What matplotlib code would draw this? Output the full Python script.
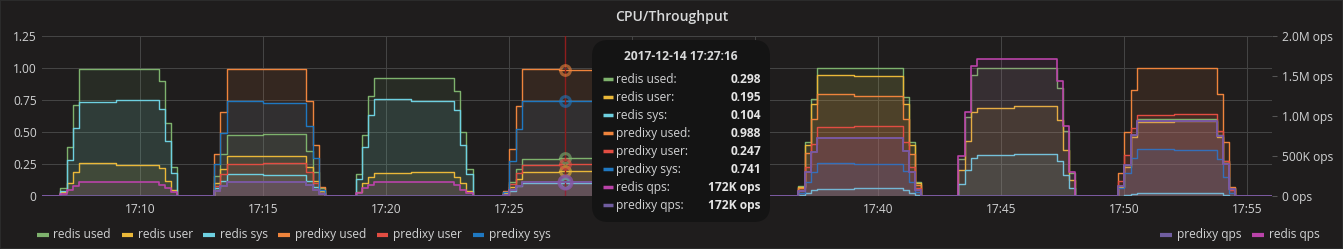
import matplotlib
matplotlib.use("Agg")
import matplotlib.pyplot as plt
from matplotlib.lines import Line2D
from matplotlib.patches import FancyBboxPatch, Rectangle
from matplotlib.ticker import FuncFormatter
import numpy as np

W, H = 1343, 249
plt.rcParams["font.family"] = ["Open Sans", "DejaVu Sans"]

# sample times (minutes after 17:00), only where something changes (15 s steps)
minutes = [6.0,
           6.75, 7.0, 7.25, 7.5, 9.0, 10.75, 11.0, 11.25, 11.5,
           13.0, 13.25, 13.5, 15.0, 16.75, 17.0, 17.25, 17.5,
           18.75, 19.0, 19.25, 19.5, 21.0, 22.75, 23.0, 23.25, 23.5,
           24.75, 25.0, 25.25, 25.5, 27.0, 29.0, 29.25, 29.5, 29.75,
           36.75, 37.0, 37.25, 37.5, 39.0, 41.0, 41.25, 41.5, 41.75,
           43.25, 43.5, 43.75, 44.0, 45.5, 47.25, 47.5, 47.75, 48.0,
           49.75, 50.0, 50.25, 50.5, 52.0, 53.75, 54.0, 54.25, 54.5,
           56.0]

redis_used = [0,
              0.06, 0.38, 0.71, 0.99, 0.995, 0.90, 0.57, 0.23, 0,
              0.16, 0.33, 0.48, 0.485, 0.35, 0.19, 0.06, 0,
              0.17, 0.48, 0.78, 0.925, 0.925, 0.82, 0.50, 0.21, 0,
              0.03, 0.11, 0.21, 0.29, 0.298, 0.24, 0.14, 0.05, 0,
              0.08, 0.42, 0.76, 1.0, 0.997, 0.77, 0.42, 0.11, 0,
              0.29, 0.62, 0.945, 0.998, 0.998, 0.84, 0.51, 0.18, 0,
              0.07, 0.24, 0.48, 0.60, 0.605, 0.48, 0.27, 0.06, 0,
              0]
redis_user = [0,
              0.03, 0.10, 0.19, 0.26, 0.245, 0.22, 0.12, 0.05, 0,
              0.10, 0.21, 0.31, 0.315, 0.23, 0.12, 0.04, 0,
              0.03, 0.10, 0.15, 0.177, 0.185, 0.15, 0.10, 0.04, 0,
              0.02, 0.07, 0.13, 0.19, 0.195, 0.16, 0.09, 0.03, 0,
              0.07, 0.40, 0.72, 0.945, 0.94, 0.72, 0.40, 0.10, 0,
              0.20, 0.43, 0.655, 0.69, 0.70, 0.59, 0.36, 0.125, 0,
              0.07, 0.23, 0.46, 0.58, 0.585, 0.46, 0.26, 0.06, 0,
              0]
redis_sys = [0,
             0.04, 0.28, 0.53, 0.735, 0.75, 0.68, 0.43, 0.18, 0,
             0.06, 0.12, 0.17, 0.165, 0.12, 0.07, 0.02, 0,
             0.13, 0.38, 0.63, 0.755, 0.745, 0.67, 0.40, 0.17, 0,
             0.01, 0.04, 0.08, 0.10, 0.104, 0.08, 0.05, 0.02, 0,
             0.005, 0.025, 0.045, 0.055, 0.065, 0.05, 0.025, 0.007, 0,
             0.09, 0.20, 0.30, 0.32, 0.325, 0.27, 0.165, 0.06, 0,
             0.0, 0.01, 0.015, 0.02, 0.025, 0.02, 0.01, 0.0, 0,
             0]
predixy_used = [0,
                0, 0, 0, 0, 0, 0, 0, 0, 0,
                0.33, 0.66, 0.99, 0.99, 0.74, 0.40, 0.07, 0,
                0, 0, 0, 0, 0, 0, 0, 0, 0,
                0.04, 0.365, 0.70, 0.99, 0.988, 0.80, 0.45, 0.10, 0,
                0.064, 0.334, 0.60, 0.795, 0.78, 0.60, 0.33, 0.086, 0,
                0, 0, 0, 0, 0, 0, 0, 0, 0,
                0.18, 0.50, 0.83, 0.998, 0.998, 0.80, 0.42, 0.07, 0,
                0]
predixy_user = [0,
                0, 0, 0, 0, 0, 0, 0, 0, 0,
                0.08, 0.17, 0.25, 0.26, 0.19, 0.10, 0.02, 0,
                0, 0, 0, 0, 0, 0, 0, 0, 0,
                0.01, 0.095, 0.18, 0.245, 0.247, 0.20, 0.11, 0.03, 0,
                0.043, 0.227, 0.41, 0.54, 0.545, 0.42, 0.23, 0.06, 0,
                0, 0, 0, 0, 0, 0, 0, 0, 0,
                0.12, 0.32, 0.53, 0.635, 0.64, 0.51, 0.27, 0.045, 0,
                0]
predixy_sys = [0,
               0, 0, 0, 0, 0, 0, 0, 0, 0,
               0.25, 0.49, 0.74, 0.73, 0.55, 0.30, 0.05, 0,
               0, 0, 0, 0, 0, 0, 0, 0, 0,
               0.03, 0.27, 0.52, 0.745, 0.741, 0.60, 0.34, 0.07, 0,
               0.02, 0.107, 0.19, 0.255, 0.25, 0.196, 0.107, 0.028, 0,
               0, 0, 0, 0, 0, 0, 0, 0, 0,
               0.06, 0.18, 0.30, 0.365, 0.36, 0.29, 0.15, 0.025, 0,
               0]
# throughput, thousands of ops/s (right axis)
redis_qps = [0,
             20, 75, 128, 171, 172, 138, 96, 46, 0,
             64, 128, 179, 176, 136, 80, 24, 0,
             32, 96, 138, 171, 170, 136, 80, 32, 0,
             16, 72, 128, 170, 172, 140, 80, 24, 0,
             58, 304, 552, 728, 730, 560, 304, 80, 0,
             496, 1056, 1626, 1709, 1712, 1440, 880, 304, 0,
             128, 384, 768, 938, 940, 750, 400, 90, 0,
             0]
predixy_qps = [0,
               0, 0, 0, 0, 0, 0, 0, 0, 0,
               64, 128, 179, 176, 136, 80, 24, 0,
               0, 0, 0, 0, 0, 0, 0, 0, 0,
               16, 72, 128, 170, 172, 140, 80, 24, 0,
               58, 304, 552, 728, 730, 560, 304, 80, 0,
               0, 0, 0, 0, 0, 0, 0, 0, 0,
               128, 384, 768, 938, 940, 750, 400, 90, 0,
               0]

cpu_series = [("redis used", redis_used, "#7EB26D"),
              ("redis user", redis_user, "#EAB839"),
              ("redis sys", redis_sys, "#6ED0E0"),
              ("predixy used", predixy_used, "#EF843C"),
              ("predixy user", predixy_user, "#E24D42"),
              ("predixy sys", predixy_sys, "#1F78C1")]
qps_series = [("redis qps", redis_qps, "#BA43A9"),
              ("predixy qps", predixy_qps, "#705DA0")]

hover = 27 + 16 / 60  # 17:27:16
tip_span = (28.4, 35.6)  # x range covered by the tooltip box

bg = "#1f1d1d"
txt = "#d0d1d2"
grid = "#444444"
fs = 8.64  # 12 px


def fx(x):
    return x / W


def fy(y):
    return 1 - y / H


fig = plt.figure(figsize=(W / 100, H / 100), dpi=100, facecolor=bg)
ax = fig.add_axes([fx(42), 53 / H, 1230 / W, 160 / H])
ax.set_facecolor(bg)
ax2 = ax.twinx()
ax2.patch.set_visible(False)

t = np.array(minutes)
for name, vals, c in cpu_series:
    ax.fill_between(t, vals, step="post", color=c, alpha=0.1, lw=0)
    ax.plot(t, vals, drawstyle="steps-post", color=c, lw=1)
for name, vals, c in qps_series:
    ax2.fill_between(t, vals, step="post", color=c, alpha=0.1, lw=0)
    ax2.plot(t, vals, drawstyle="steps-post", color=c, lw=1.2)

ax.set_xlim(6, 56)
ax.set_ylim(0, 1.25)
ax2.set_ylim(0, 2000)

ax.set_yticks([0, 0.25, 0.5, 0.75, 1.0, 1.25])
ax.yaxis.set_major_formatter(FuncFormatter(lambda v, p: "0" if v == 0 else f"{v:.2f}"))
ax.set_xticks(np.arange(10, 56, 5))


def time_fmt(m, p):
    # labels under the tooltip are hidden in the screenshot
    if tip_span[0] < m < tip_span[1]:
        return ""
    return f"17:{int(m):02d}"


ax.xaxis.set_major_formatter(FuncFormatter(time_fmt))
ax2.set_yticks([0, 500, 1000, 1500, 2000])


def ops_fmt(v, p):
    if v == 0:
        return "0 ops"
    if v >= 1000:
        return f"{v / 1000:.1f}M ops"
    return f"{int(v)}K ops"


ax2.yaxis.set_major_formatter(FuncFormatter(ops_fmt))

ax.grid(True, color=grid, lw=0.75)
ax.set_axisbelow(True)
for a in (ax, ax2):
    for s in a.spines.values():
        s.set_visible(False)
ax.tick_params(axis="y", length=0, pad=3.8, labelsize=fs, labelcolor=txt)
ax.tick_params(axis="x", length=0, pad=5, labelsize=fs, labelcolor=txt)
ax2.tick_params(axis="y", length=3.6, width=0.75, color="#555555", pad=3.4,
                labelsize=fs, labelcolor=txt)

# crosshair and hover markers
ax.axvline(hover, color="#8f1d1d", lw=1, zorder=5)
i = np.searchsorted(t, hover, side="right") - 1
for name, vals, c in cpu_series:
    ax.plot([hover], [vals[i]], "o", ms=7, mfc="none", mec=c, mew=2.2, alpha=0.6, zorder=6)
for name, vals, c in qps_series:
    ax2.plot([hover], [vals[i]], "o", ms=9, mfc="none", mec=c, mew=2.4, alpha=0.6, zorder=6)

# title
fig.text(0.5, fy(17), "CPU/Throughput", ha="center", va="center", color="#d8d9da",
         fontsize=10.1, fontweight="semibold")

# legend
left_items = [(37, 53), (121.7, 137.7), (203.3, 220), (278.3, 295), (376.7, 393), (472.7, 489.3)]
for (sx, tx), (name, vals, c) in zip(left_items, cpu_series):
    fig.add_artist(Line2D([fx(sx), fx(sx + 11.5)], [fy(234.5)] * 2, color=c, lw=3, solid_capstyle="butt"))
    fig.text(fx(tx), fy(234), name, color=txt, fontsize=fs, va="center", ha="left")
right_items = [(1160, 1176.7, qps_series[1]), (1252.3, 1269, qps_series[0])]
for sx, tx, (name, vals, c) in right_items:
    fig.add_artist(Line2D([fx(sx), fx(sx + 11.5)], [fy(234.5)] * 2, color=c, lw=3, solid_capstyle="butt"))
    fig.text(fx(tx), fy(234), name, color=txt, fontsize=fs, va="center", ha="left")

# tooltip
box = FancyBboxPatch((fx(592), fy(222)), fx(770) - fx(592), fy(40) - fy(222),
                     boxstyle="round,pad=0,rounding_size=0.012", transform=fig.transFigure,
                     facecolor="#141414", edgecolor="none", zorder=20, mutation_aspect=W / H)
fig.add_artist(box)
fig.text(fx(681), fy(57), "2017-12-14 17:27:16", ha="center", va="center", color="#d8d9da",
         fontsize=fs, fontweight="bold", zorder=21)
rows = cpu_series + qps_series
for k, (name, vals, c) in enumerate(rows):
    y = 79.3 + 18 * k
    fig.add_artist(Line2D([fx(602.7), fx(612.7)], [fy(y)] * 2, color=c, lw=2.5,
                          solid_capstyle="butt", zorder=21))
    fig.text(fx(616), fy(y), name + ":", ha="left", va="center", color=txt, fontsize=fs, zorder=21)
    v = vals[i]
    val = f"{v:.0f}K ops" if name.endswith("qps") else f"{v:.3f}"
    fig.text(fx(761), fy(y), val, ha="right", va="center", color="#e4e4e4", fontsize=fs,
             fontweight="bold", zorder=21)

fig.add_artist(Rectangle((0, 0), 1, 1, transform=fig.transFigure, fill=False,
                         edgecolor="#2b2b2b", lw=1.5, zorder=30))

fig.savefig("out.png", dpi=100, facecolor=bg)
